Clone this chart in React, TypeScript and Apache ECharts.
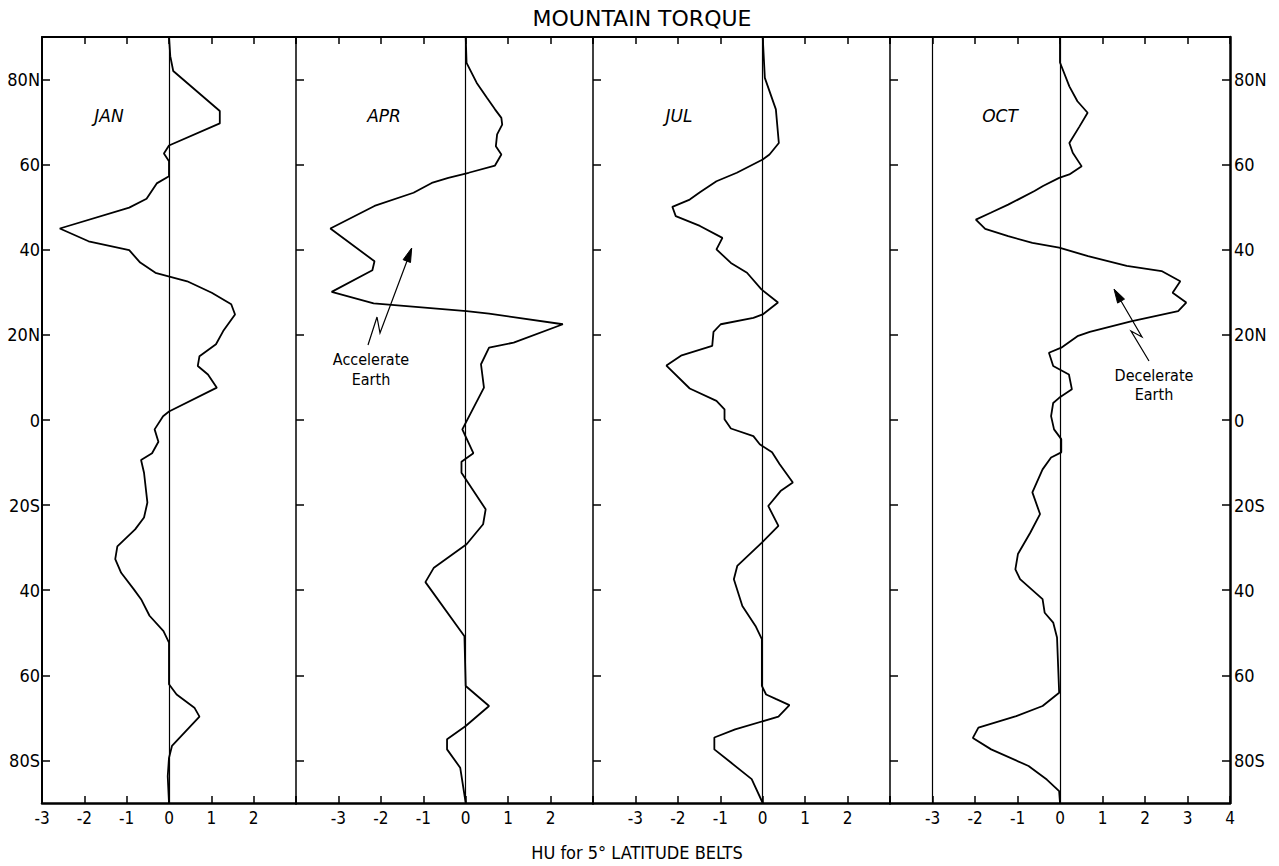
import React, { useEffect, useRef } from 'react';
import * as echarts from 'echarts';

// ---------- data ----------
const LAT_TICKS = [80, 60, 40, 20, 0, -20, -40, -60, -80];
const LAT_LABELS = ['80N', '60', '40', '20N', '0', '20S', '40', '60', '80S'];

const MONTHS = ['JAN', 'APR', 'JUL', 'OCT'];
const X_MIN = [-3, -4, -4, -4];
const X_MAX = [3, 3, 3, 4];
const X_LABELS = [
  [-3, -2, -1, 0, 1, 2],
  [-3, -2, -1, 0, 1, 2],
  [-3, -2, -1, 0, 1, 2],
  [-3, -2, -1, 0, 1, 2, 3, 4],
];
const REF_LINES = [[0], [0], [0], [-3, 0]];

const JAN_LAT = [90, 85.5, 82, 72.6, 69.7, 64.5, 62.6, 60.8, 57.3, 55.6, 52, 49.9, 45, 42, 39.9, 37, 34.6, 32.6, 29.9, 27.2, 24.8, 20.9, 17.8, 15, 12.7, 10.7, 7.6, 2, 0.9, -2.2, -5.1, -7.8, -9.4, -12.4, -19.4, -22.9, -25.7, -29.7, -32.7, -35.9, -39.8, -42.1, -46, -49.6, -52.3, -62.1, -64.5, -67.6, -69.7, -76.6, -79.4, -83.7, -90];
const JAN_VAL = [0, 0.03, 0.1, 1.2, 1.2, 0, -0.12, 0, 0, -0.29, -0.53, -0.94, -2.58, -1.9, -0.94, -0.68, -0.32, 0.43, 1.01, 1.47, 1.56, 1.28, 1.11, 0.72, 0.68, 0.92, 1.13, 0, -0.14, -0.34, -0.25, -0.4, -0.66, -0.59, -0.51, -0.59, -0.8, -1.22, -1.27, -1.13, -0.83, -0.66, -0.46, -0.13, 0, 0, 0.18, 0.6, 0.72, 0.07, 0, -0.03, 0];

const APR_LAT = [90, 83.9, 79.2, 75.7, 73, 71, 69.4, 67.1, 64.3, 62.4, 59.8, 58.1, 56.9, 55.7, 53.4, 50.3, 45, 37.3, 35.2, 30.1, 27.4, 25.6, 25, 22.5, 18.2, 17, 13.1, 7.6, -2.2, -7.8, -9.8, -12.4, -21, -24.5, -29.2, -34.7, -38.1, -50.8, -62.5, -67.2, -71.9, -75, -77.4, -81.7, -90];
const APR_VAL = [0, 0.02, 0.26, 0.5, 0.69, 0.84, 0.86, 0.74, 0.71, 0.84, 0.69, 0.07, -0.41, -0.8, -1.23, -2.15, -3.19, -2.15, -2.2, -3.16, -2.17, 0.02, 0.55, 2.29, 1.13, 0.55, 0.36, 0.43, -0.08, 0.18, -0.1, -0.1, 0.47, 0.41, 0.02, -0.75, -0.95, -0.03, 0, 0.55, 0, -0.44, -0.44, -0.13, 0];

const JUL_LAT = [90, 80.4, 73, 65.1, 62.4, 61.2, 58.1, 56.1, 53.5, 51.8, 50.1, 47.9, 45.6, 42.8, 40.1, 36.9, 34.6, 30.7, 27.6, 24.8, 24, 22.5, 20.7, 17.4, 15.2, 12.8, 7.4, 4.5, 2.5, 0.2, -2, -3.8, -5.7, -7.6, -10.4, -14.7, -16.7, -20.2, -24.9, -28.8, -34.3, -37.4, -43.7, -48.4, -51.5, -62.5, -64.5, -65.6, -67, -69.7, -72.7, -74.6, -77.4, -80.5, -84.4, -90];
const JUL_VAL = [0, 0.05, 0.31, 0.38, 0.16, 0, -0.61, -1.09, -1.48, -1.72, -2.13, -2.05, -1.48, -0.95, -1.09, -0.75, -0.37, -0.03, 0.36, 0, -0.22, -0.99, -1.16, -1.19, -1.91, -2.27, -1.72, -1.09, -0.9, -0.9, -0.75, -0.22, -0.07, 0.22, 0.4, 0.71, 0.42, 0.13, 0.37, -0.02, -0.6, -0.68, -0.48, -0.17, -0.02, -0.02, 0.08, 0.32, 0.63, 0.37, -0.65, -1.14, -1.14, -0.75, -0.26, 0];

const OCT_LAT = [90, 84, 78.4, 74.9, 72.2, 69, 65.1, 62.8, 59.6, 57.7, 56.9, 55, 53.8, 50.6, 48.7, 47.1, 44.9, 43.2, 41.6, 40.5, 38.5, 36.2, 35, 32.6, 29.9, 27.6, 25.6, 23.2, 20.7, 19.7, 17, 15.8, 12.7, 10.7, 7.2, 5.2, 4, 0.9, -2.2, -4.5, -7.6, -8.8, -11.6, -17, -22.1, -26.5, -31.5, -35.1, -37.4, -42.1, -45.3, -47.6, -51.1, -64.1, -67.2, -69.6, -72.3, -74.7, -77.4, -81.3, -84.5, -87.2, -90];
const OCT_VAL = [0, 0, 0.22, 0.41, 0.65, 0.46, 0.22, 0.3, 0.51, 0.22, -0.02, -0.4, -0.6, -1.22, -1.63, -1.98, -1.76, -1.22, -0.65, -0.02, 0.66, 1.57, 2.39, 2.83, 2.65, 2.97, 2.78, 1.67, 0.7, 0.41, 0.03, -0.26, -0.16, 0.21, 0.28, -0.02, -0.16, -0.21, -0.14, 0.03, 0.03, -0.21, -0.41, -0.65, -0.47, -0.7, -0.99, -1.05, -0.94, -0.41, -0.36, -0.16, -0.07, -0.02, -0.41, -1.03, -1.92, -2.05, -1.62, -0.74, -0.31, -0.02, 0];

const SERIES_LAT = [JAN_LAT, APR_LAT, JUL_LAT, OCT_LAT];
const SERIES_VAL = [JAN_VAL, APR_VAL, JUL_VAL, OCT_VAL];

// ---------- layout ----------
const GRID_LEFT = [42, 296, 593, 890];
const GRID_WIDTH = [254, 297, 297, 340];
const GRID_TOP = 37;
const GRID_HEIGHT = 766;
const MONTH_POS = [[109, 116], [384, 116], [679, 116], [1000, 116]];

const COND = "'DejaVu Sans Condensed', 'Liberation Sans Narrow', sans-serif";
const SANS = "'DejaVu Sans', sans-serif";

function fmtLat(v: number) {
  const i = LAT_TICKS.indexOf(v);
  return i >= 0 ? LAT_LABELS[i] : '';
}

export default function App() {
  const ref = useRef<HTMLDivElement>(null);
  useEffect(() => {
    if (!ref.current) return;
    const chart = echarts.init(ref.current, null, { renderer: 'svg' });

    const grids = GRID_LEFT.map((l, i) => ({
      left: l, width: GRID_WIDTH[i], top: GRID_TOP, height: GRID_HEIGHT, containLabel: false,
    }));

    const bottomAxes = MONTHS.map((_, i) => ({
      type: 'value', gridIndex: i, position: 'bottom', min: X_MIN[i], max: X_MAX[i], interval: 1,
      axisLine: { show: true, onZero: false, lineStyle: { color: '#000', width: 2.5 } },
      axisTick: { show: true, inside: true, length: 7, lineStyle: { color: '#000', width: 1.5 } },
      axisLabel: {
        show: true, customValues: X_LABELS[i], color: '#000', fontFamily: COND, fontSize: 17, margin: 6,
        formatter: (v: number) => String(v),
      },
      splitLine: { show: false },
    }));
    const topAxes = MONTHS.map((_, i) => ({
      type: 'value', gridIndex: i, position: 'top', min: X_MIN[i], max: X_MAX[i], interval: 1,
      axisLine: { show: true, onZero: false, lineStyle: { color: '#000', width: 2 } },
      axisTick: { show: true, inside: true, length: 7, lineStyle: { color: '#000', width: 1.5 } },
      axisLabel: { show: false },
      splitLine: { show: false },
    }));
    const leftAxes = MONTHS.map((_, i) => ({
      type: 'value', gridIndex: i, position: 'left', min: -90, max: 90,
      axisLine: { show: true, onZero: false, lineStyle: { color: '#000', width: i === 0 ? 2 : 1.5 } },
      axisTick: { show: true, inside: true, length: 8, customValues: LAT_TICKS, lineStyle: { color: '#000', width: 1.5 } },
      axisLabel: {
        show: i === 0, customValues: LAT_TICKS, color: '#000', fontFamily: COND, fontSize: 18, margin: 2,
        formatter: fmtLat,
      },
      splitLine: { show: false },
    }));
    const rightAxis = {
      type: 'value', gridIndex: 3, position: 'right', min: -90, max: 90,
      axisLine: { show: true, onZero: false, lineStyle: { color: '#000', width: 2.5 } },
      axisTick: { show: true, inside: true, length: 8, customValues: LAT_TICKS, lineStyle: { color: '#000', width: 1.5 } },
      axisLabel: {
        show: true, customValues: LAT_TICKS, color: '#000', fontFamily: COND, fontSize: 18, margin: 4,
        formatter: fmtLat,
      },
      splitLine: { show: false },
    };

    const series = MONTHS.map((m, i) => ({
      name: m, type: 'line', xAxisIndex: i, yAxisIndex: i,
      data: SERIES_LAT[i].map((lat, k) => [SERIES_VAL[i][k], lat]),
      symbol: 'none', showSymbol: false,
      lineStyle: { color: '#000', width: 1.8 },
      markLine: {
        silent: true, symbol: ['none', 'none'], label: { show: false },
        lineStyle: { color: '#000', width: 1.2, type: 'solid' },
        data: REF_LINES[i].map((v) => ({ xAxis: v })),
      },
    }));

    const textStyle = (txt: string, x: number, y: number, size: number, font: string, extra: any = {}) => ({
      type: 'text', x, y,
      style: { text: txt, fill: '#000', fontSize: size, fontFamily: font, textAlign: 'center', textVerticalAlign: 'middle', ...extra },
    });

    const graphic: any[] = [
      textStyle('MOUNTAIN TORQUE', 642, 18, 22, SANS),
      textStyle('HU for 5° LATITUDE BELTS', 637, 852, 18, COND),
      ...MONTHS.map((m, i) => textStyle(m, MONTH_POS[i][0], MONTH_POS[i][1], 17, SANS, { fontStyle: 'italic' })),
      textStyle('Accelerate', 371, 359, 16, COND),
      textStyle('Earth', 371, 379, 16, COND),
      textStyle('Decelerate', 1154, 375, 16, COND),
      textStyle('Earth', 1154, 394, 16, COND),
      {
        type: 'polyline',
        shape: { points: [[368, 345], [377, 317], [380, 333], [407, 261]] },
        style: { stroke: '#000', lineWidth: 1.2, fill: null },
      },
      {
        type: 'polygon',
        shape: { points: [[411.7, 248], [410.5, 262.5], [403.1, 259.7]] },
        style: { fill: '#000', stroke: '#000', lineWidth: 1 },
      },
      {
        type: 'polyline',
        shape: { points: [[1149, 361], [1131, 331], [1142, 337], [1121, 301]] },
        style: { stroke: '#000', lineWidth: 1.2, fill: null },
      },
      {
        type: 'polygon',
        shape: { points: [[1114, 289], [1124.5, 299.1], [1117.6, 303.1]] },
        style: { fill: '#000', stroke: '#000', lineWidth: 1 },
      },
    ];

    chart.setOption({
      animation: false,
      backgroundColor: '#fff',
      grid: grids,
      xAxis: [...bottomAxes, ...topAxes],
      yAxis: [...leftAxes, rightAxis],
      series,
      graphic,
    });
    return () => chart.dispose();
  }, []);

  return (
    <div style={{ position: 'fixed', left: 0, top: 0, width: 1279, height: 866, background: '#fff' }}>
      <div ref={ref} style={{ width: 1279, height: 866 }} />
    </div>
  );
}
